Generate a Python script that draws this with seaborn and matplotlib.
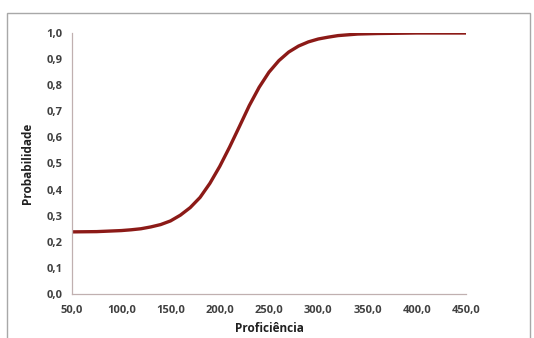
import pandas as pd
import numpy as np
import matplotlib
matplotlib.use("Agg")
import matplotlib.pyplot as plt
import matplotlib.patches as patches
from matplotlib.ticker import FuncFormatter, MultipleLocator
import seaborn as sns

# valores (curva caracteristica do item)
proficiencia = [50, 75, 100, 110, 120, 130, 140, 150, 160, 170, 180, 190, 200, 210, 220,
                230, 240, 250, 260, 270, 280, 290, 300, 310, 320, 330, 340, 360, 400, 450]
probabilidade = [0.238, 0.239, 0.243, 0.246, 0.250, 0.257, 0.266, 0.280, 0.302, 0.331,
                 0.370, 0.424, 0.489, 0.563, 0.642, 0.722, 0.792, 0.850, 0.894, 0.927,
                 0.950, 0.966, 0.977, 0.984, 0.990, 0.993, 0.996, 0.998, 1.000, 1.000]

df = pd.DataFrame({"Proficiência": proficiencia, "Probabilidade": probabilidade})

sns.set_style("white")
plt.rcParams['font.family'] = ['Open Sans', 'DejaVu Sans']

fig = plt.figure(figsize=(5.34, 3.38), dpi=100)
ax = fig.add_axes([72 / 534, 1 - 294 / 338, (466 - 72) / 534, (294 - 33) / 338])

# moldura externa do grafico
fig.patches.append(patches.Rectangle((7 / 534, -0.01), 523 / 534, 1 - 13 / 338 + 0.01,
                                     transform=fig.transFigure, fill=False,
                                     edgecolor="#a8a8a8", linewidth=1.0))

sns.lineplot(data=df, x="Proficiência", y="Probabilidade", ax=ax,
             color="#8c1a17", linewidth=2.4)

ax.set_xlim(50, 450)
ax.set_ylim(0, 1.0)
ax.xaxis.set_major_locator(MultipleLocator(50))
ax.yaxis.set_major_locator(MultipleLocator(0.1))
ax.xaxis.set_major_formatter(FuncFormatter(lambda v, p: f"{v:.1f}".replace(".", ",")))
ax.yaxis.set_major_formatter(FuncFormatter(lambda v, p: f"{v:.1f}".replace(".", ",")))

for side in ["top", "right"]:
    ax.spines[side].set_visible(False)
for side in ["left", "bottom"]:
    ax.spines[side].set_color("#c0b0b0")
    ax.spines[side].set_linewidth(0.9)

ax.tick_params(axis="both", direction="out", length=3, width=0.8, color="#c0b0b0",
               labelsize=8, labelcolor="#404040")
ax.tick_params(axis="x", pad=5)
ax.tick_params(axis="y", pad=4)
for lab in ax.get_xticklabels() + ax.get_yticklabels():
    lab.set_fontweight("bold")

ax.set_xlabel("Proficiência", fontsize=8.5, fontweight="bold", color="#202020", labelpad=4)
ax.set_ylabel("Probabilidade", fontsize=8.5, fontweight="bold", color="#202020", labelpad=9)

plt.savefig("out.png", dpi=100)
